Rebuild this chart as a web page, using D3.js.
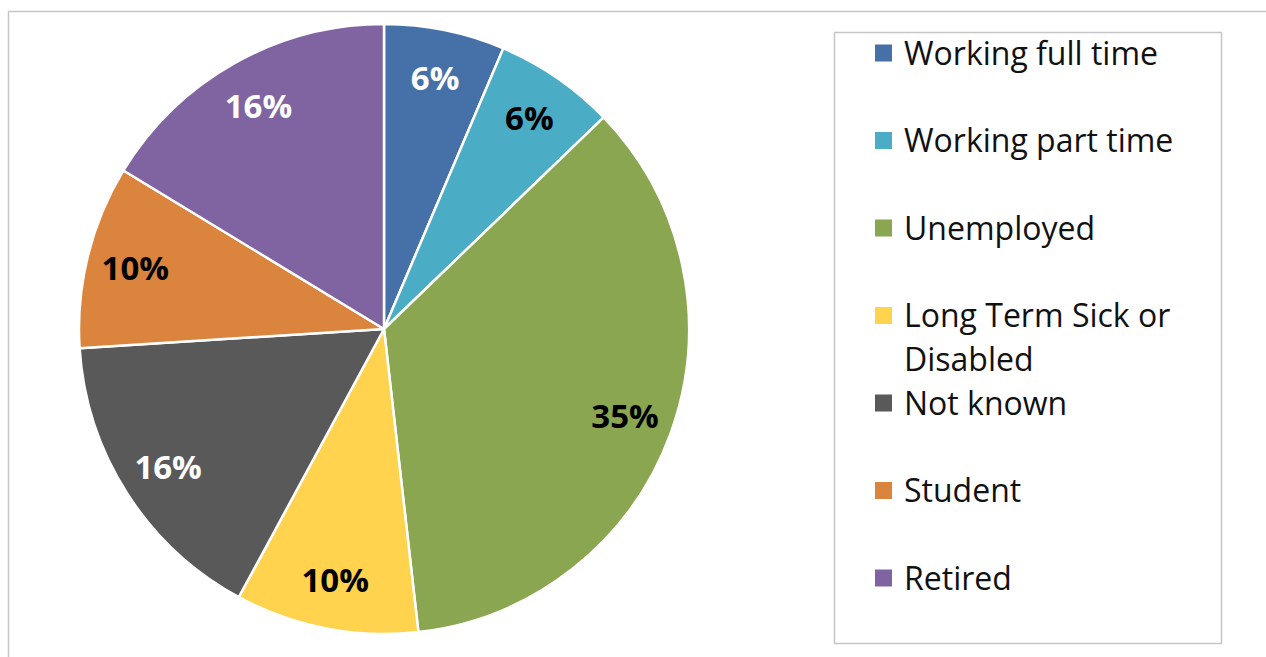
<!DOCTYPE html>
<html>
<head>
<meta charset="utf-8">
<script src="https://cdn.jsdelivr.net/npm/d3@7"></script>
<style>
  body { margin: 0; background: #fff; }
  svg { display: block; }
</style>
</head>
<body>
<script>
// chart data
var categories = ["Working full time", "Working part time", "Unemployed",
                  "Long Term Sick or Disabled", "Not known", "Student", "Retired"];
var shares = [6.4, 6.4, 35.4, 9.7, 16.1, 9.7, 16.3];
var colours = ["#4571A8", "#4BACC6", "#8AA650", "#FFD34D", "#595959", "#DB843D", "#8064A2"];
var labelColours = ["#fff", "#000", "#000", "#000", "#fff", "#000", "#fff"];
// legend lines (long name wraps in two)
var legendLines = [["Working full time"], ["Working part time"], ["Unemployed"],
                   ["Long Term Sick or", "Disabled"], ["Not known"], ["Student"], ["Retired"]];

var width = 1266, height = 657;
var cx = 384, cy = 329, radius = 305;

var svg = d3.select("body").append("svg")
    .attr("width", width)
    .attr("height", height);

// outer chart border (runs off the right and bottom edges)
svg.append("rect")
    .attr("x", 8.5).attr("y", 11.5)
    .attr("width", width).attr("height", height)
    .attr("fill", "none")
    .attr("stroke", "#c6c6c6")
    .attr("stroke-width", 1.5);

var data = categories.map(function(c, i) { return {name: c, value: shares[i], i: i}; });

var pie = d3.pie()
    .value(function(d) { return d.value; })
    .sort(null);

var arc = d3.arc().innerRadius(0).outerRadius(radius);
var labelArc = d3.arc().innerRadius(radius * 0.84).outerRadius(radius * 0.84);

var g = svg.append("g")
    .attr("transform", "translate(" + cx + "," + cy + ")");

var arcs = pie(data);

g.selectAll("path")
    .data(arcs)
  .enter().append("path")
    .attr("d", arc)
    .attr("fill", function(d) { return colours[d.data.i]; })
    .attr("stroke", "#fff")
    .attr("stroke-width", 2.5)
    .attr("stroke-linejoin", "round");

g.selectAll("text.pct")
    .data(arcs)
  .enter().append("text")
    .attr("class", "pct")
    .attr("transform", function(d) { return "translate(" + labelArc.centroid(d) + ")"; })
    .attr("text-anchor", "middle")
    .attr("dy", "0.36em")
    .style("font-family", "'Open Sans', sans-serif")
    .style("font-weight", "bold")
    .style("font-size", "33px")
    .attr("fill", function(d) { return labelColours[d.data.i]; })
    .text(function(d) { return Math.round(d.data.value) + "%"; });

// legend
var legendX = 834, legendY = 32;
svg.append("rect")
    .attr("x", legendX + 0.5).attr("y", legendY + 0.5)
    .attr("width", 387).attr("height", 611)
    .attr("fill", "#fff")
    .attr("stroke", "#c6c6c6")
    .attr("stroke-width", 1.5);

var itemY = d3.scaleLinear().domain([0, categories.length - 1]).range([53, 578]);

var items = svg.selectAll("g.legend")
    .data(data)
  .enter().append("g")
    .attr("class", "legend")
    .attr("transform", function(d) { return "translate(875," + itemY(d.i) + ")"; });

items.append("rect")
    .attr("x", 0).attr("y", -8.5)
    .attr("width", 17).attr("height", 17)
    .attr("fill", function(d) { return colours[d.i]; });

items.append("text")
    .attr("x", 30)
    .style("font-family", "'Open Sans', sans-serif")
    .style("font-size", "32px")
    .attr("fill", "#111")
    .selectAll("tspan")
    .data(function(d) { return legendLines[d.i]; })
  .enter().append("tspan")
    .attr("x", 29)
    .attr("y", function(t, j) { return j * 44; })
    .attr("dy", "0.36em")
    .text(function(t) { return t; });
</script>
</body>
</html>
